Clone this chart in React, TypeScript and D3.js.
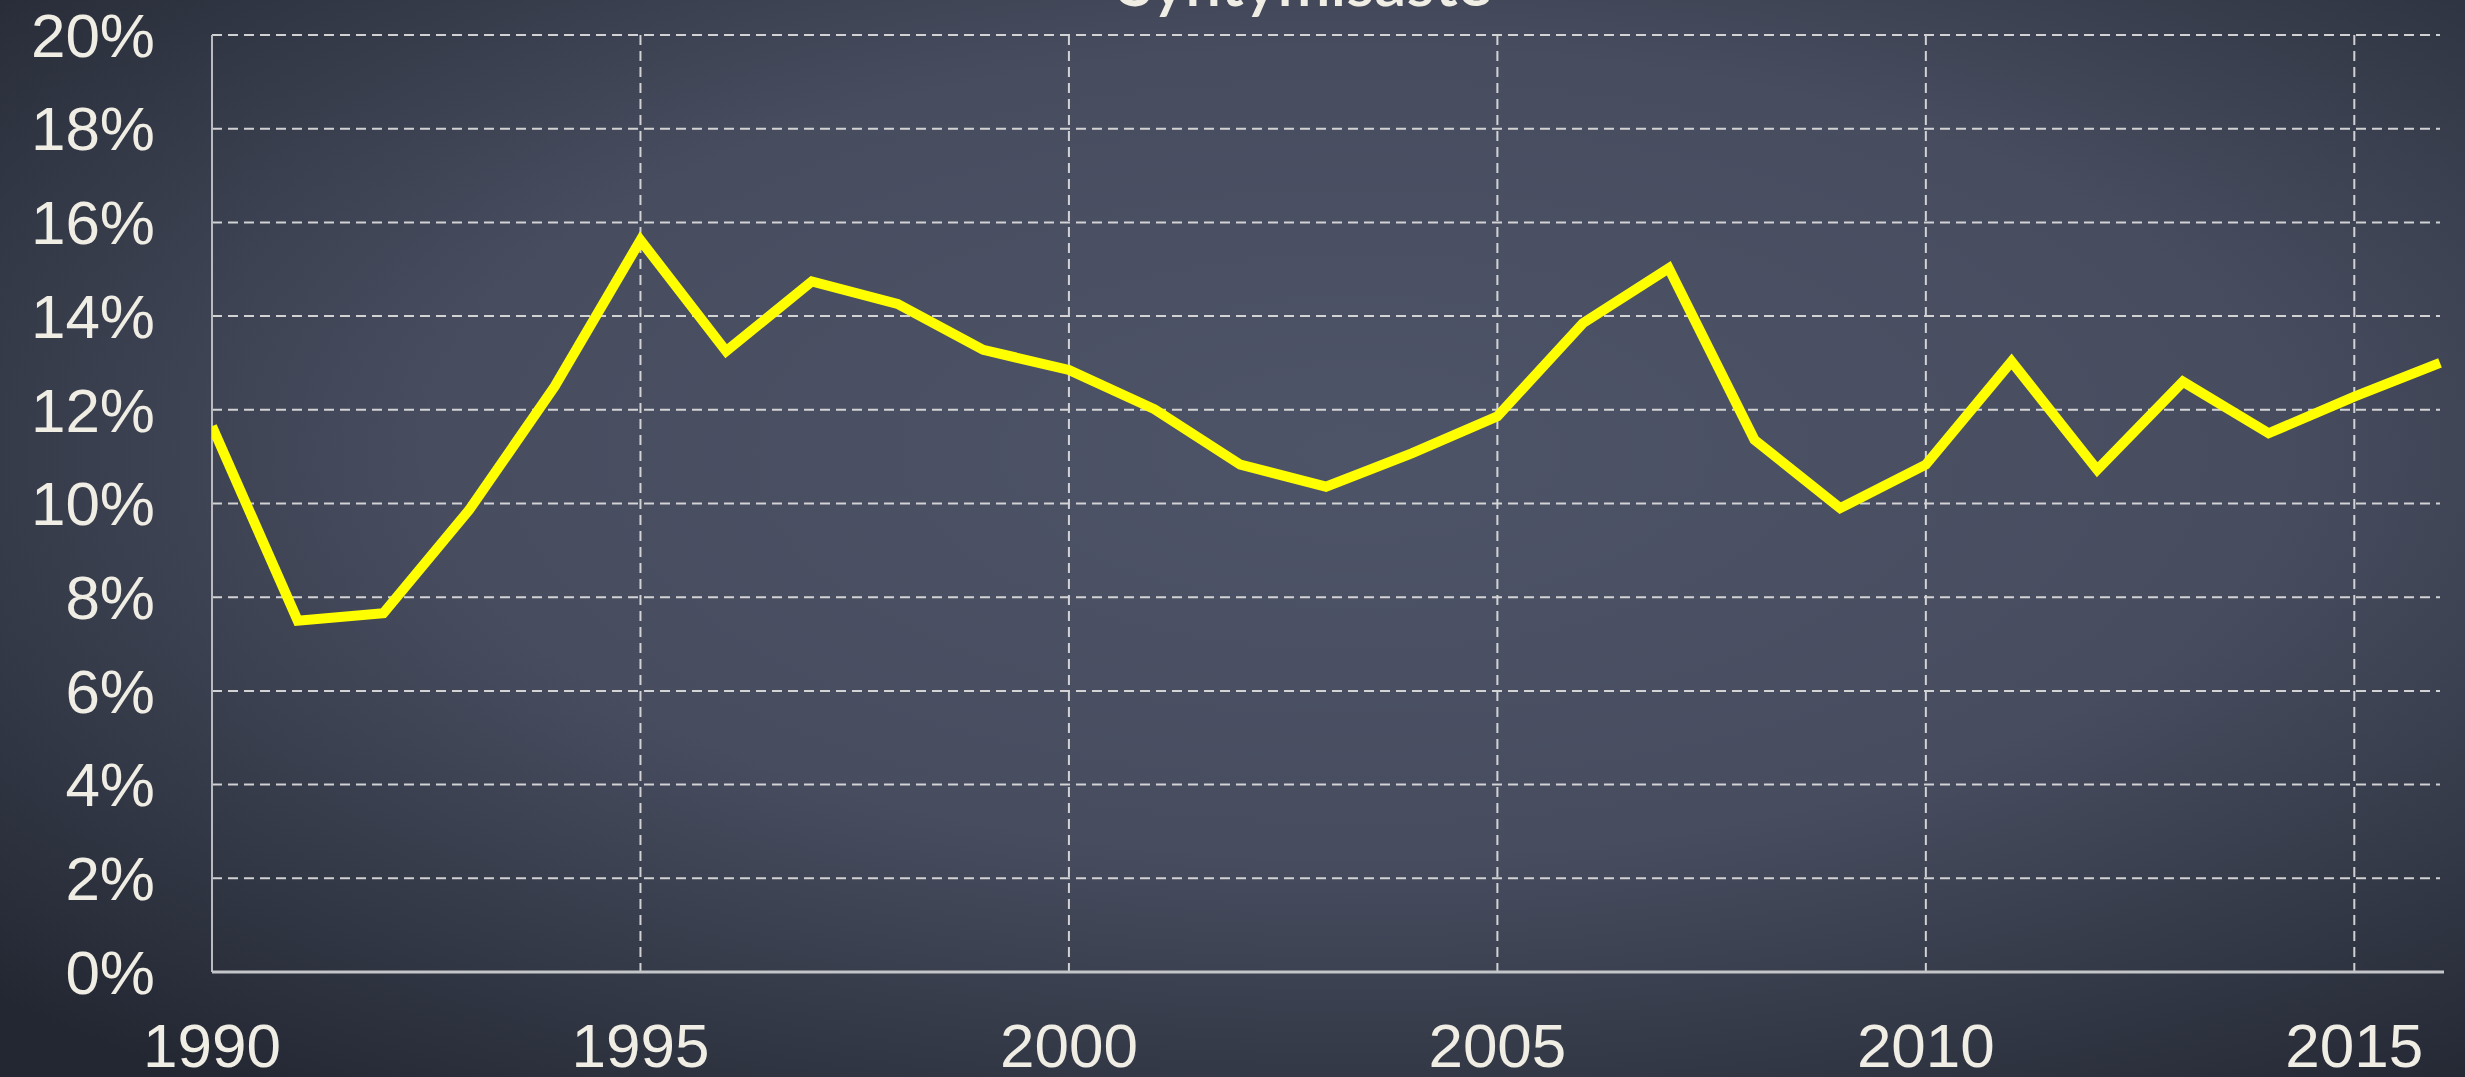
import React, { useEffect, useRef } from "react";
import * as d3 from "d3";

const years = [1990,1991,1992,1993,1994,1995,1996,1997,1998,1999,2000,2001,2002,2003,2004,2005,2006,2007,2008,2009,2010,2011,2012,2013,2014,2015,2016];
const values = [11.65,7.5,7.66,9.86,12.5,15.62,13.25,14.74,14.26,13.28,12.85,12.01,10.83,10.36,11.07,11.86,13.85,15.02,11.36,9.9,10.83,13.03,10.72,12.6,11.5,12.28,13.0];
const yTicks = [0,2,4,6,8,10,12,14,16,18,20];
const xTicks = [1990,1995,2000,2005,2010,2015];
const title = "Syntymisaste";

const W = 2465, H = 1077;
const M = { left: 212, right: 2440, top: 35, bottom: 972 };

export default function App() {
  const ref = useRef<SVGSVGElement>(null);
  useEffect(() => {
    document.body.style.margin = "0";
    const svg = d3.select(ref.current);
    svg.selectAll("*").remove();
    const x = d3.scaleLinear().domain([1990, 2016]).range([M.left, M.right]);
    const y = d3.scaleLinear().domain([0, 20]).range([M.bottom, M.top]);

    const defs = svg.append("defs");
    const rg = defs.append("radialGradient").attr("id", "bg")
      .attr("cx", "0.55").attr("cy", "0.42").attr("r", "0.75");
    rg.append("stop").attr("offset", "0").attr("stop-color", "#4e5467");
    rg.append("stop").attr("offset", "0.5").attr("stop-color", "#474d5f");
    rg.append("stop").attr("offset", "1").attr("stop-color", "#232732");
    defs.append("clipPath").attr("id", "clip").append("rect")
      .attr("x", M.left).attr("y", 0).attr("width", M.right - M.left + 10).attr("height", M.bottom);

    svg.append("rect").attr("width", W).attr("height", H).attr("fill", "url(#bg)");

    const grid = svg.append("g").attr("stroke", "#e2e2e2").attr("stroke-width", 2)
      .attr("stroke-dasharray", "10,6").attr("opacity", 0.9);
    grid.selectAll("line.h").data(yTicks.filter(t => t > 0)).join("line")
      .attr("x1", M.left).attr("x2", M.right)
      .attr("y1", d => y(d)).attr("y2", d => y(d));
    grid.selectAll("line.v").data(xTicks.filter(t => t > 1990)).join("line")
      .attr("class", "v")
      .attr("x1", d => x(d)).attr("x2", d => x(d))
      .attr("y1", M.top).attr("y2", M.bottom);

    svg.append("line").attr("x1", M.left).attr("x2", M.left).attr("y1", M.top).attr("y2", M.bottom)
      .attr("stroke", "#b9bbc0").attr("stroke-width", 2);
    svg.append("line").attr("x1", M.left).attr("x2", M.right + 4).attr("y1", M.bottom).attr("y2", M.bottom)
      .attr("stroke", "#c4c5c8").attr("stroke-width", 3);

    const line = d3.line<number>().x((_, i) => x(years[i])).y(d => y(d));
    svg.append("path").datum(values).attr("d", line)
      .attr("fill", "none").attr("stroke", "#ffff00").attr("stroke-width", 10)
      .attr("stroke-linejoin", "miter").attr("stroke-miterlimit", 10)
      .attr("clip-path", "url(#clip)");

    const font = "'Liberation Sans', Arial, sans-serif";
    svg.append("g").selectAll("text").data(yTicks).join("text")
      .attr("x", 155).attr("y", d => y(d)).attr("dy", "0.35em")
      .attr("text-anchor", "end").attr("font-family", font).attr("font-size", 62)
      .attr("fill", "#efede4").text(d => `${d}%`);
    svg.append("g").selectAll("text").data(xTicks).join("text")
      .attr("x", d => x(d)).attr("y", 1067)
      .attr("text-anchor", "middle").attr("font-family", font).attr("font-size", 62)
      .attr("fill", "#efede4").text(d => String(d));

    svg.append("text").attr("x", 1305).attr("y", 6).attr("text-anchor", "middle")
      .attr("font-family", "Lato, 'Open Sans', sans-serif").attr("font-size", 64)
      .attr("font-weight", 600)
      .attr("fill", "#efede4").text(title);
  }, []);
  return <svg ref={ref} width={W} height={H} style={{ display: "block" }} />;
}
